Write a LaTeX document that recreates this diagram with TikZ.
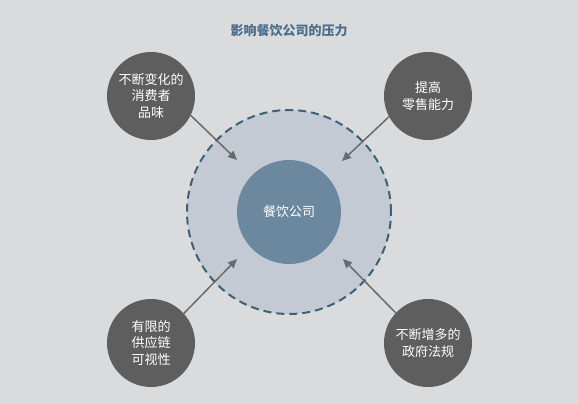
\documentclass[tikz,border=0pt]{standalone}
\usepackage{fontspec}
\newfontfamily\cjk{Noto Sans CJK SC}
\usetikzlibrary{arrows.meta}
\definecolor{paper}{HTML}{DADBDC}
\definecolor{ringfill}{HTML}{C4CAD3}
\definecolor{ringline}{HTML}{3E6178}
\definecolor{firmfill}{HTML}{6B889F}
\definecolor{forcefill}{HTML}{5E5E5F}
\definecolor{arrowgray}{HTML}{6A6A6A}
\definecolor{titleblue}{HTML}{4A6E8C}
\tikzset{
	force/.style={circle, fill=forcefill, minimum size=88pt, inner sep=0pt, text=white, align=center, font=\cjk\fontsize{13}{16.5}\selectfont},
	push/.style={draw=arrowgray, line width=1.5pt, -{Triangle[length=9pt,width=8pt]}}
}
\begin{document}
\begin{tikzpicture}[x=1pt,y=-1pt]
	\fill[paper] (0,0) rectangle (578,404);
	\useasboundingbox (0,0) rectangle (578,404);
	
	\node at (289,31) (title) {\cjk\bfseries\fontsize{13}{15}\selectfont\color{titleblue}影响餐饮公司的压力};
	
	\node[circle, fill=ringfill, draw=ringline, line width=2pt, dash pattern=on 8pt off 5pt, minimum size=204pt] at (289,212) (ring) {};
	\node[circle, fill=firmfill, minimum size=104pt, text=white, font=\cjk\fontsize{13}{15}\selectfont] at (289,212) (firm) {餐饮公司};
	
	\node[force] at (151,96) (taste) {不断变化的\\消费者\\品味};
	\node[force] at (428,96) (retail) {提高\\零售能力};
	\node[force] at (151,343) (supply) {有限的\\供应链\\可视性};
	\node[force] at (428,343) (rules) {不断增多的\\政府法规};
	
	\coordinate (t1) at (237,160);
	\coordinate (t2) at (342,161);
	\coordinate (t3) at (237,259);
	\coordinate (t4) at (343,259);
	
	\draw[push] (taste.-26) -- (t1);
	\draw[push] (retail.-152) -- (t2);
	\draw[push] (supply.42) -- (t3);
	\draw[push] (rules.137) -- (t4);
\end{tikzpicture}
\end{document}
